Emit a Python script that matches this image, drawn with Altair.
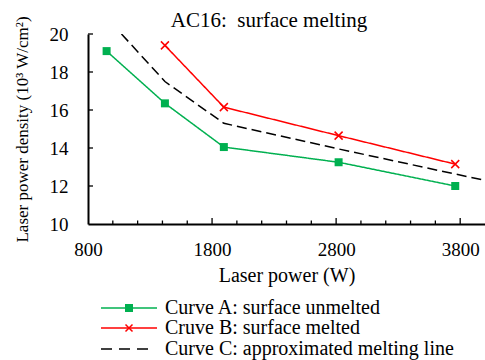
import altair as alt
import pandas as pd

# ---- data ----
power_a = [950, 1420, 1895, 2820, 3760]
dens_a = [19.1, 16.35, 14.05, 13.25, 12.0]
power_b = [1420, 1895, 2820, 3760]
dens_b = [19.4, 16.15, 14.65, 13.15]
power_c = [1070, 1420, 1895, 2820, 3760, 4000]
dens_c = [20.0, 17.5, 15.3, 13.95, 12.63, 12.3]

series_names = [
    "Curve A: surface unmelted",
    "Cruve B: surface melted",
    "Curve C: approximated melting line",
]
series_colors = ["#00B050", "#FF0000", "#000000"]
title_text = ["AC16:\u00a0 surface melting"]

x_tick_labels = [800, 1800, 2800, 3800]
x_major_ticks = [1800, 2800, 3800]
x_minor_ticks = [1000, 1200, 1400, 1600, 2000, 2200, 2400, 2600, 3000, 3200, 3400, 3600]
y_tick_labels = [10, 12, 14, 16, 18, 20]
y_ticks = [12, 14, 16, 18, 20]
x_min, y_min = 800, 10

FONT = "Liberation Serif"
CROSS = "M-1,-1L1,1M-1,1L1,-1"

rows = []
for name, xs, ys in zip(series_names, [power_a, power_b, power_c], [dens_a, dens_b, dens_c]):
    for i, (x, y) in enumerate(zip(xs, ys)):
        rows.append({"series": name, "power": x, "density": y, "order": i})
for p in x_minor_ticks:
    rows.append({"series": "x_minor", "power": p, "density": y_min, "order": 0})
for p in x_major_ticks:
    rows.append({"series": "x_major", "power": p, "density": y_min, "order": 0})
for v in y_ticks:
    rows.append({"series": "y_tick", "power": x_min, "density": v, "order": 0})
df = pd.DataFrame(rows)

x_scale = alt.Scale(domain=[800, 4000], nice=False, zero=False)
y_scale = alt.Scale(domain=[10, 20], nice=False, zero=False)

x_axis = alt.Axis(values=x_tick_labels, format="d", title="Laser power (W)", grid=False, ticks=False,
                  domainColor="black", domainWidth=2, labelFont=FONT, labelFontSize=19,
                  labelColor="black", labelPadding=16, titleFont=FONT, titleFontSize=20,
                  titleFontWeight="normal", titleColor="black", titlePadding=6, labelFlush=False)
y_axis = alt.Axis(values=y_tick_labels, format="d", title="Laser power density (10³ W/cm²)", grid=False,
                  ticks=False, domainColor="black", domainWidth=2, labelFont=FONT, labelFontSize=19,
                  labelColor="black", labelPadding=20, titleFont=FONT, titleFontSize=17,
                  titleFontWeight="normal", titleColor="black", titlePadding=18, labelFlush=False)

X = alt.X("power:Q", scale=x_scale, axis=x_axis)
Y = alt.Y("density:Q", scale=y_scale, axis=y_axis)

color_scale = alt.Scale(domain=series_names, range=series_colors)
dash_scale = alt.Scale(domain=series_names, range=[[1, 0], [1, 0], [10, 5]])

lines = alt.Chart(df).transform_filter(
    alt.FieldOneOfPredicate(field="series", oneOf=series_names)
).mark_line(strokeWidth=1.5, clip=True).encode(
    x=X, y=Y,
    color=alt.Color("series:N", scale=color_scale, legend=None),
    strokeDash=alt.StrokeDash("series:N", scale=dash_scale, legend=None),
    detail="series:N",
    order="order:Q",
)

pts_a = alt.Chart(df).transform_filter(
    alt.datum.series == series_names[0]
).mark_square(size=64, filled=True, color=series_colors[0], opacity=1).encode(x=X, y=Y)

pts_b = alt.Chart(df).transform_filter(
    alt.datum.series == series_names[1]
).mark_point(size=64, filled=False, color=series_colors[1], strokeWidth=1.5, opacity=1,
             shape=CROSS).encode(x=X, y=Y)

# inward tick marks (short stroke symbols anchored on the axis values)
xt_minor = alt.Chart(df).transform_filter(alt.datum.series == "x_minor").mark_point(
    shape="M0,0V-1", size=49, filled=False, color="black", strokeWidth=1.3, opacity=1).encode(x=X, y=Y)
xt_major = alt.Chart(df).transform_filter(alt.datum.series == "x_major").mark_point(
    shape="M0,0V-1", size=144, filled=False, color="black", strokeWidth=1.3, opacity=1).encode(x=X, y=Y)
yt = alt.Chart(df).transform_filter(alt.datum.series == "y_tick").mark_point(
    shape="M0,0H1", size=100, filled=False, color="black", strokeWidth=1.3, opacity=1).encode(x=X, y=Y)

# title as a text mark above the plot
title_layer = alt.Chart(pd.DataFrame({"t": title_text})).mark_text(
    align="center", baseline="alphabetic", font=FONT, fontSize=21, color="black").encode(
    text="t:N", x=alt.value(181), y=alt.value(-7.3))

# legend (drawn below the plot)
legend_row_y = [274, 294, 315]
legend_layers = []
for i, name in enumerate(series_names):
    base = alt.Chart(pd.DataFrame({"label": [name]}))
    if i == 2:
        seg = base.mark_rule(color=series_colors[i], strokeWidth=1.5, strokeDash=[11, 7]).encode(
            x=alt.value(13), x2=alt.value(62), y=alt.value(legend_row_y[i]))
    else:
        seg = base.mark_rule(color=series_colors[i], strokeWidth=1.5).encode(
            x=alt.value(13), x2=alt.value(69), y=alt.value(legend_row_y[i]))
    legend_layers.append(seg)
    if i == 0:
        legend_layers.append(base.mark_square(size=64, filled=True, color=series_colors[i], opacity=1).encode(
            x=alt.value(41), y=alt.value(legend_row_y[i])))
    elif i == 1:
        legend_layers.append(base.mark_point(size=49, filled=False, color=series_colors[i], strokeWidth=1.5,
                                             opacity=1, shape=CROSS).encode(
            x=alt.value(41), y=alt.value(legend_row_y[i])))
    legend_layers.append(base.mark_text(align="left", baseline="middle", font=FONT, fontSize=20,
                                        color="black").encode(
        text="label:N", x=alt.value(77), y=alt.value(legend_row_y[i])))

chart = alt.layer(lines, xt_minor, xt_major, yt, pts_a, pts_b, title_layer, *legend_layers).properties(
    width=397, height=190,
    autosize="none",
    padding={"left": 88, "top": 34, "right": 0, "bottom": 136},
    background="white",
).configure_view(stroke=None)

chart.save("out.html", embed_options={"renderer": "svg", "actions": False})
